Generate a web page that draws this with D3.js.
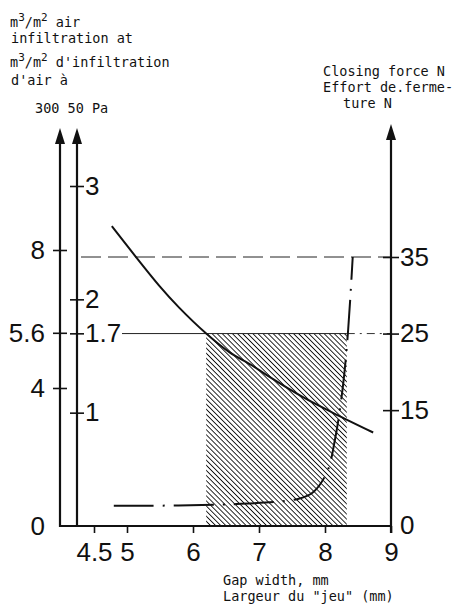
<!DOCTYPE html>
<html>
<head>
<meta charset="utf-8">
<script src="https://cdn.jsdelivr.net/npm/d3@7"></script>
<style>
    body { margin: 0; background: #fff; }
    .tick text { font-family: 'Liberation Sans', sans-serif; font-size: 26px; fill: #111; }
    .tick line { stroke: #111; stroke-width: 1.6; }
    .note { font-family: 'DejaVu Sans Mono', monospace; font-size: 13.5px; fill: #111; }
</style>
</head>
<body>
<svg id="chart"></svg>
<script>
// tick values
const gapTicks = [4.5, 5, 6, 7, 8, 9];
const pa300Ticks = [0, 4, 5.6, 8];
const pa50Ticks = [1, 1.7, 2, 3];
const forceTicks = [0, 15, 25, 35];

// air infiltration at 300 Pa (m3/m2) vs gap width (mm)
const airGap = [4.77, 5.49, 5.79, 6.20, 6.55, 6.89, 7.16, 7.66, 8.12, 8.73];
const air300 = [8.69, 6.96, 6.33, 5.58, 5.04, 4.66, 4.32, 3.74, 3.28, 2.71];

// closing force (N) vs gap width (mm)
const forceGap = [4.80, 6.55, 7.59, 7.81, 8.03, 8.15, 8.27, 8.35, 8.42];
const forceN = [2.5, 2.7, 3.4, 4.2, 6.9, 11.1, 18.0, 25.4, 35];

// reference levels and the acceptable gap band
const maxForce = 35;
const limitForce = 25;
const bandGap = [6.2, 8.33];

const W = 457, H = 607;
const baseY = 526;
const axis300X = 60, axis50X = 77, axisRX = 391;
const arrowTip = 126;

const svg = d3.select('#chart').attr('width', W).attr('height', H);

const x = d3.scaleLinear().domain([4.5, 9]).range([94, 391]);
const y300 = d3.scaleLinear().domain([0, 8]).range([baseY, 250]);
const y50 = d3.scaleLinear().domain([0, 3]).range([baseY, 186]);
const yN = d3.scaleLinear().domain([0, 35]).range([baseY - 1, 257]);

// hatching
const defs = svg.append('defs');
defs.append('pattern')
    .attr('id', 'hatch')
    .attr('patternUnits', 'userSpaceOnUse')
    .attr('width', 3.6)
    .attr('height', 3.6)
    .attr('patternTransform', 'rotate(-45)')
    .append('line')
    .attr('x1', 0).attr('y1', 0)
    .attr('x2', 0).attr('y2', 3.6)
    .attr('stroke', '#111')
    .attr('stroke-width', 1.8);

svg.append('rect')
    .attr('x', x(bandGap[0]))
    .attr('y', yN(limitForce))
    .attr('width', x(bandGap[1]) - x(bandGap[0]))
    .attr('height', baseY - yN(limitForce))
    .attr('fill', 'url(#hatch)');

// horizontal reference lines
svg.append('line')
    .attr('x1', axis50X + 4).attr('x2', axisRX)
    .attr('y1', yN(maxForce)).attr('y2', yN(maxForce))
    .attr('stroke', '#222').attr('stroke-width', 1)
    .attr('stroke-dasharray', '20,7');

svg.append('line')
    .attr('x1', axis50X + 45).attr('x2', x(bandGap[1]))
    .attr('y1', yN(limitForce)).attr('y2', yN(limitForce))
    .attr('stroke', '#222').attr('stroke-width', 1);

svg.append('line')
    .attr('x1', x(bandGap[1])).attr('x2', axisRX)
    .attr('y1', yN(limitForce)).attr('y2', yN(limitForce))
    .attr('stroke', '#333').attr('stroke-width', 1)
    .attr('stroke-dasharray', '8,5,2,5');

// curves
const airPts = airGap.map((g, i) => [x(g), y300(air300[i])]);
const forcePts = forceGap.map((g, i) => [x(g), yN(forceN[i])]);
const line = d3.line().curve(d3.curveCatmullRom.alpha(0.5));

svg.append('path')
    .attr('d', line(airPts))
    .attr('fill', 'none')
    .attr('stroke', '#111')
    .attr('stroke-width', 2);

svg.append('path')
    .attr('d', line(forcePts))
    .attr('fill', 'none')
    .attr('stroke', '#111')
    .attr('stroke-width', 2)
    .attr('stroke-dasharray', '40,9,2,9');

// axis lines with arrow heads
[[axis300X, arrowTip + 2], [axis50X, arrowTip + 2], [axisRX, arrowTip - 2]].forEach(([ax, tip]) => {
    svg.append('line')
        .attr('x1', ax).attr('x2', ax)
        .attr('y1', ax === axisRX ? baseY + 7 : baseY + 1).attr('y2', tip + 10)
        .attr('stroke', '#111').attr('stroke-width', 2.2);
    svg.append('path')
        .attr('d', `M${ax},${tip} L${ax - 5},${tip + 16} L${ax + 5},${tip + 16} Z`)
        .attr('fill', '#111');
});

svg.append('line')
    .attr('x1', axis300X - 1).attr('x2', axisRX)
    .attr('y1', baseY).attr('y2', baseY)
    .attr('stroke', '#111').attr('stroke-width', 2.2);

// x axis
const xAxisG = svg.append('g')
    .attr('transform', `translate(0, ${baseY})`)
    .call(d3.axisBottom(x).tickValues(gapTicks).tickSize(7).tickPadding(10)
        .tickFormat(d => d === 4.5 ? '4.5' : d3.format('d')(d)));
xAxisG.select('.domain').remove();
xAxisG.selectAll('.tick text').attr('dy', '0.71em');

// 300 Pa axis
const a300 = svg.append('g')
    .attr('transform', `translate(${axis300X}, 0)`)
    .call(d3.axisLeft(y300).tickValues(pa300Ticks).tickSize(7).tickPadding(8)
        .tickFormat(d => d));
a300.select('.domain').remove();
a300.selectAll('.tick line').attr('x1', 7);
a300.selectAll('.tick').filter(d => d === 0).select('line').remove();

// 50 Pa axis
const a50 = svg.append('g')
    .attr('transform', `translate(${axis50X}, 0)`)
    .call(d3.axisRight(y50).tickValues(pa50Ticks).tickSize(7).tickPadding(1)
        .tickFormat(d => d));
a50.select('.domain').remove();
a50.selectAll('.tick line').attr('x1', -7);

// closing force axis
const aR = svg.append('g')
    .attr('transform', `translate(${axisRX}, 0)`)
    .call(d3.axisRight(yN).tickValues(forceTicks).tickSize(8).tickPadding(1));
aR.select('.domain').remove();
aR.selectAll('.tick line').attr('x1', -8);
aR.selectAll('.tick').filter(d => d === 0).select('line').remove();

// titles
function supLine(sel, tail) {
    sel.append('tspan').text('m');
    sel.append('tspan').attr('dy', -6).style('font-size', '11px').text('3');
    sel.append('tspan').attr('dy', 6).text('/m');
    sel.append('tspan').attr('dy', -6).style('font-size', '11px').text('2');
    sel.append('tspan').attr('dy', 6).text(tail);
}

supLine(svg.append('text').attr('class', 'note').attr('x', 10).attr('y', 27), ' air');
svg.append('text').attr('class', 'note').attr('x', 11).attr('y', 43).text('infiltration at');
supLine(svg.append('text').attr('class', 'note').attr('x', 10).attr('y', 67), " d'infiltration");
svg.append('text').attr('class', 'note').attr('x', 11).attr('y', 85).text("d'air à");
svg.append('text').attr('class', 'note').attr('x', 35).attr('y', 113).text('300 50 Pa');

svg.append('text').attr('class', 'note').attr('x', 323).attr('y', 76).text('Closing force N');
svg.append('text').attr('class', 'note').attr('x', 323).attr('y', 92).text('Effort de.ferme-');
svg.append('text').attr('class', 'note').attr('x', 343).attr('y', 108).text('ture N');

svg.append('text').attr('class', 'note').attr('x', 223).attr('y', 585).text('Gap width, mm');
svg.append('text').attr('class', 'note').attr('x', 223).attr('y', 601).text('Largeur du "jeu" (mm)');
</script>
</body>
</html>
